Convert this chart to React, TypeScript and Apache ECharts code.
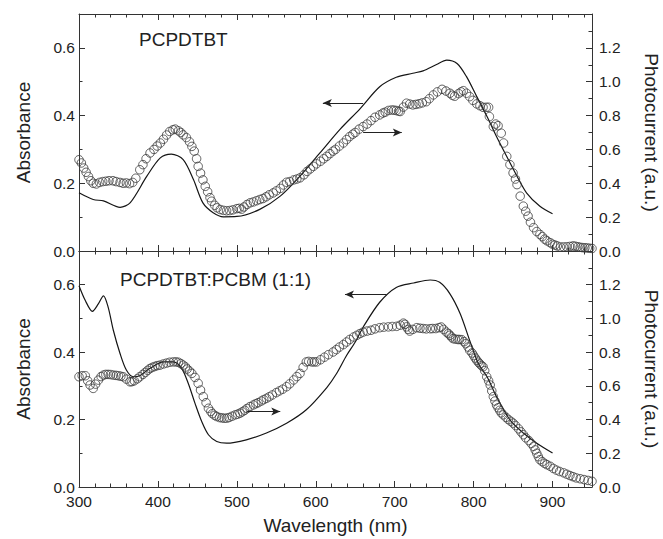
import React, { useEffect, useRef } from "react";
import * as echarts from "echarts";

// ---------- data (wavelength nm) ----------
// Top panel: PCPDTBT
const topAbsWl = [300, 318, 331, 352, 365, 386, 403, 417, 432, 445, 457, 470, 483, 500, 529, 555, 580, 605, 631, 656, 681, 702, 723, 736, 753, 766, 779, 791, 804, 817, 829, 842, 855, 867, 884, 900];
const topAbsVal = [0.172, 0.152, 0.148, 0.129, 0.143, 0.221, 0.275, 0.286, 0.27, 0.211, 0.142, 0.113, 0.101, 0.102, 0.123, 0.162, 0.221, 0.289, 0.36, 0.42, 0.485, 0.513, 0.525, 0.532, 0.551, 0.564, 0.554, 0.515, 0.456, 0.397, 0.338, 0.279, 0.221, 0.172, 0.132, 0.11];

const topPcWl = [300, 303, 306, 309, 312, 315, 318, 322, 326, 330, 334, 338, 343, 347, 352, 356, 360, 364, 368, 372, 377, 381, 385, 390, 395, 399, 403, 407, 411, 415, 419, 422, 426, 429, 432, 436, 440, 443, 446, 449, 451, 454, 457, 460, 463, 466, 468, 472, 475, 479, 483, 487, 491, 495, 500, 503, 506, 509, 513, 517, 521, 525, 529, 533, 537, 541, 546, 550, 555, 559, 563, 567, 572, 576, 580, 585, 589, 593, 597, 601, 606, 610, 614, 618, 622, 625, 630, 635, 639, 643, 647, 650, 655, 660, 665, 670, 675, 681, 685, 688, 692, 696, 699, 702, 705, 707, 711, 715, 719, 723, 727, 731, 735, 740, 744, 749, 754, 760, 765, 770, 773, 776, 781, 784, 787, 791, 795, 799, 804, 808, 812, 816, 819, 820, 825, 828, 831, 835, 838, 842, 846, 850, 853, 855, 859, 863, 866, 869, 872, 876, 880, 884, 887, 890, 893, 897, 900, 903, 906, 910, 914, 918, 922, 926, 929, 932, 935, 938, 941, 944, 947, 950];
const topPcVal = [0.539, 0.52, 0.49, 0.465, 0.44, 0.415, 0.4, 0.396, 0.405, 0.41, 0.412, 0.415, 0.415, 0.41, 0.405, 0.4, 0.402, 0.398, 0.405, 0.43, 0.48, 0.51, 0.545, 0.579, 0.6, 0.62, 0.638, 0.66, 0.685, 0.706, 0.716, 0.72, 0.71, 0.7, 0.686, 0.67, 0.645, 0.618, 0.59, 0.545, 0.5, 0.46, 0.42, 0.382, 0.35, 0.315, 0.294, 0.27, 0.255, 0.245, 0.24, 0.238, 0.239, 0.243, 0.25, 0.252, 0.247, 0.26, 0.275, 0.285, 0.29, 0.297, 0.304, 0.31, 0.32, 0.332, 0.343, 0.355, 0.37, 0.39, 0.406, 0.41, 0.42, 0.425, 0.432, 0.45, 0.47, 0.485, 0.5, 0.515, 0.53, 0.545, 0.559, 0.575, 0.59, 0.6, 0.62, 0.638, 0.658, 0.676, 0.69, 0.7, 0.72, 0.735, 0.75, 0.77, 0.79, 0.804, 0.815, 0.82, 0.83, 0.833, 0.832, 0.83, 0.826, 0.824, 0.85, 0.873, 0.868, 0.863, 0.866, 0.87, 0.875, 0.882, 0.9, 0.922, 0.94, 0.955, 0.945, 0.932, 0.92, 0.914, 0.93, 0.94, 0.947, 0.932, 0.912, 0.89, 0.869, 0.858, 0.849, 0.849, 0.849, 0.794, 0.735, 0.75, 0.74, 0.696, 0.638, 0.559, 0.51, 0.461, 0.425, 0.392, 0.324, 0.265, 0.235, 0.206, 0.17, 0.138, 0.115, 0.098, 0.085, 0.07, 0.06, 0.049, 0.04, 0.035, 0.03, 0.024, 0.024, 0.025, 0.027, 0.03, 0.028, 0.025, 0.022, 0.02, 0.019, 0.018, 0.016, 0.015];

// Bottom panel: PCPDTBT:PCBM (1:1)
const botAbsWl = [300, 308, 317, 324.5, 331, 337, 343.5, 352, 360, 369, 377, 390, 407, 419.5, 430, 438.5, 447, 455.5, 464, 474.5, 487, 512, 537.5, 563, 588, 614, 626, 639, 650, 660, 681, 702, 724, 745, 757, 770, 783, 795, 806, 817, 829, 846, 863, 880, 900];
const botAbsVal = [0.597, 0.553, 0.521, 0.543, 0.567, 0.533, 0.465, 0.396, 0.347, 0.327, 0.33, 0.352, 0.371, 0.371, 0.352, 0.307, 0.248, 0.194, 0.155, 0.135, 0.13, 0.14, 0.16, 0.189, 0.229, 0.295, 0.335, 0.39, 0.43, 0.474, 0.548, 0.592, 0.605, 0.614, 0.607, 0.573, 0.514, 0.435, 0.366, 0.327, 0.268, 0.199, 0.16, 0.13, 0.101];

const botPcWl = [300, 304, 308, 311, 314, 318, 321, 324.5, 328, 331, 334, 337, 340, 343.5, 347, 350, 353, 356, 360, 364.6, 367, 370, 374, 377, 381, 384, 387, 390, 393, 396, 399, 402.6, 407, 411, 415, 419.5, 423, 426, 429, 432, 435, 437, 440, 443, 447, 451, 454, 457.5, 461, 464, 467, 469, 472, 474.5, 478, 481, 484, 487, 490, 494, 498, 501, 504, 507, 510, 513, 516.7, 521, 524, 527, 531, 534, 537.5, 541, 545, 550, 554, 558, 563, 567, 572, 576, 580, 584, 588, 591, 595, 598, 601, 606, 611, 616, 622, 626, 630, 635, 639, 643, 648, 652, 656, 660, 665, 670, 675, 681, 686, 692, 697, 702.5, 707, 711, 713, 715, 717, 719, 723, 728, 732, 736, 740, 745, 748, 752, 756, 759, 762, 765.5, 768, 770, 772, 774, 777, 780, 782, 785, 788, 790, 793, 795, 798, 800, 802, 804, 806, 808, 810, 812, 814, 816.6, 819, 821, 823, 825, 827, 829, 831, 833, 835, 837.6, 841, 844, 847, 850, 853, 857, 860, 863, 866, 870, 873, 876, 878, 880, 882, 884, 887, 890, 893, 897, 901, 905, 909, 914, 918, 922, 926, 930, 935, 940, 945, 950];
const botPcVal = [0.654, 0.66, 0.66, 0.63, 0.605, 0.585, 0.61, 0.634, 0.655, 0.664, 0.668, 0.668, 0.667, 0.664, 0.662, 0.66, 0.657, 0.654, 0.64, 0.624, 0.625, 0.63, 0.642, 0.654, 0.668, 0.68, 0.692, 0.703, 0.71, 0.715, 0.72, 0.723, 0.73, 0.735, 0.74, 0.742, 0.742, 0.74, 0.732, 0.723, 0.712, 0.7, 0.688, 0.674, 0.65, 0.615, 0.575, 0.536, 0.5, 0.467, 0.448, 0.435, 0.425, 0.418, 0.412, 0.41, 0.408, 0.408, 0.412, 0.42, 0.428, 0.432, 0.438, 0.446, 0.455, 0.466, 0.477, 0.487, 0.494, 0.5, 0.51, 0.518, 0.526, 0.535, 0.546, 0.56, 0.57, 0.58, 0.595, 0.612, 0.635, 0.655, 0.674, 0.71, 0.742, 0.745, 0.742, 0.742, 0.742, 0.755, 0.77, 0.785, 0.801, 0.815, 0.83, 0.845, 0.86, 0.875, 0.89, 0.9, 0.91, 0.919, 0.925, 0.93, 0.938, 0.945, 0.948, 0.95, 0.952, 0.953, 0.96, 0.972, 0.965, 0.95, 0.935, 0.925, 0.935, 0.945, 0.942, 0.94, 0.938, 0.939, 0.94, 0.94, 0.945, 0.949, 0.935, 0.919, 0.91, 0.9, 0.89, 0.88, 0.877, 0.875, 0.875, 0.874, 0.862, 0.85, 0.83, 0.811, 0.795, 0.78, 0.765, 0.752, 0.74, 0.73, 0.72, 0.713, 0.69, 0.654, 0.63, 0.605, 0.57, 0.536, 0.51, 0.487, 0.47, 0.455, 0.44, 0.428, 0.413, 0.4, 0.39, 0.379, 0.365, 0.345, 0.327, 0.31, 0.292, 0.275, 0.258, 0.241, 0.22, 0.2, 0.18, 0.162, 0.15, 0.14, 0.132, 0.123, 0.11, 0.1, 0.092, 0.084, 0.076, 0.068, 0.061, 0.054, 0.049, 0.044, 0.039, 0.034];

// Annotation arrows (start wl, end wl, absorbance level)
const topArrowsWl = [[660, 609], [660, 709]];
const topArrowsY = [0.437, 0.35];
const botArrowsWl = [[690, 637], [513, 555]];
const botArrowsY = [0.571, 0.224];

const panelTitles = ["PCPDTBT", "PCPDTBT:PCBM (1:1)"];

// ---------- helpers ----------
const FONT = '"Liberation Sans", Arial, Helvetica, sans-serif';
const AX = "#333";
const TXT = "#222";

const zip = (a: number[], b: number[]) => a.map((v, i) => [v, b[i]]);

function xAxes(grid: number, pos: string, labels: boolean) {
  const major: any = {
    type: "value", gridIndex: grid, position: pos, min: 300, max: 950, interval: 100,
    axisLine: { show: true, onZero: false, lineStyle: { color: AX, width: 1 } },
    axisTick: { show: true, inside: true, length: 6, lineStyle: { color: AX } },
    axisLabel: { show: labels, margin: 6, fontSize: 15.5, color: TXT, fontFamily: FONT, showMaxLabel: false },
    splitLine: { show: false },
  };
  if (labels) {
    major.name = "Wavelength (nm)";
    major.nameLocation = "middle";
    major.nameGap = 29;
    major.nameTextStyle = { fontSize: 19, color: TXT, fontFamily: FONT };
  }
  const minor = {
    type: "value", gridIndex: grid, position: pos, min: 300, max: 950, interval: 20,
    axisLine: { show: false, onZero: false },
    axisTick: { show: true, inside: true, length: 3.5, lineStyle: { color: AX } },
    axisLabel: { show: false }, splitLine: { show: false },
  };
  return [major, minor];
}

function yAxes(grid: number, pos: string, max: number, name: string, rot: number, gap: number, margin: number) {
  const major = {
    type: "value", gridIndex: grid, position: pos, min: 0, max, interval: 0.2,
    axisLine: { show: true, onZero: false, lineStyle: { color: AX, width: 1 } },
    axisTick: { show: true, inside: true, length: 6, lineStyle: { color: AX } },
    axisLabel: {
      margin, fontSize: 15.5, color: TXT, fontFamily: FONT, showMaxLabel: false,
      formatter: (v: number) => v.toFixed(1),
    },
    splitLine: { show: false },
    name, nameLocation: "middle", nameRotate: rot, nameGap: gap,
    nameTextStyle: { fontSize: 19, color: TXT, fontFamily: FONT },
  };
  const minor = {
    type: "value", gridIndex: grid, position: pos, min: 0, max, interval: 0.1,
    axisLine: { show: false, onZero: false },
    axisTick: { show: true, inside: true, length: 3.5, lineStyle: { color: AX } },
    axisLabel: { show: false }, splitLine: { show: false },
  };
  return [major, minor];
}

const arrows = (wl: number[][], ys: number[]) =>
  wl.map((p, i) => [{ coord: [p[0], ys[i]] }, { coord: [p[1], ys[i]] }]);

const lineSeries = (x: number, y: number, data: number[][], arrowData: any[]) => ({
  type: "line", xAxisIndex: x, yAxisIndex: y, data, showSymbol: false, smooth: 0.3,
  lineStyle: { color: "#151515", width: 1.2 }, z: 2,
  markLine: {
    silent: true, symbol: ["none", "arrow"], symbolSize: [6, 9],
    label: { show: false },
    lineStyle: { color: "#222", width: 1, type: "solid" },
    data: arrowData,
  },
});

const scatterSeries = (x: number, y: number, data: number[][]) => ({
  type: "scatter", xAxisIndex: x, yAxisIndex: y, data, symbol: "circle", symbolSize: 8.5,
  itemStyle: { color: "rgba(255,255,255,0)", borderColor: "#3a3a3a", borderWidth: 1 }, z: 3,
});

export default function App() {
  const ref = useRef<HTMLDivElement>(null);
  useEffect(() => {
    if (!ref.current) return;
    const chart = echarts.init(ref.current, null, { renderer: "svg" });
    const option: any = {
      animation: false,
      textStyle: { fontFamily: FONT },
      grid: [
        { left: 79, top: 14, width: 513, height: 237, outerBoundsMode: "none", containLabel: false },
        { left: 79, top: 251, width: 513, height: 236, outerBoundsMode: "none", containLabel: false },
      ],
      xAxis: [
        ...xAxes(0, "bottom", false), // 0,1
        ...xAxes(0, "top", false),    // 2,3
        ...xAxes(1, "bottom", true),  // 4,5
        ...xAxes(1, "top", false),    // 6,7
      ],
      yAxis: [
        ...yAxes(0, "left", 0.7, "Absorbance", 90, 46, 4),              // 0,1
        ...yAxes(0, "right", 1.4, "Photocurrent (a.u.)", -90, 50, 7),   // 2,3
        ...yAxes(1, "left", 0.7, "Absorbance", 90, 46, 4),              // 4,5
        ...yAxes(1, "right", 1.4, "Photocurrent (a.u.)", -90, 50, 7),   // 6,7
      ],
      series: [
        lineSeries(0, 0, zip(topAbsWl, topAbsVal), arrows(topArrowsWl, topArrowsY)),
        scatterSeries(0, 2, zip(topPcWl, topPcVal)),
        lineSeries(4, 4, zip(botAbsWl, botAbsVal), arrows(botArrowsWl, botArrowsY)),
        scatterSeries(4, 6, zip(botPcWl, botPcVal)),
      ],
      graphic: [
        {
          type: "text", x: 139, y: 39,
          style: { text: panelTitles[0], fontSize: 19, fontFamily: FONT, fill: TXT, verticalAlign: "middle", textVerticalAlign: "middle" },
        },
        {
          type: "text", x: 120, y: 279,
          style: { text: panelTitles[1], fontSize: 19, fontFamily: FONT, fill: TXT, verticalAlign: "middle", textVerticalAlign: "middle" },
        },
      ],
    };
    chart.setOption(option);
    return () => chart.dispose();
  }, []);
  return (
    <div
      ref={ref}
      style={{ position: "fixed", left: 0, top: 0, width: 663, height: 539, background: "#fff" }}
    />
  );
}
